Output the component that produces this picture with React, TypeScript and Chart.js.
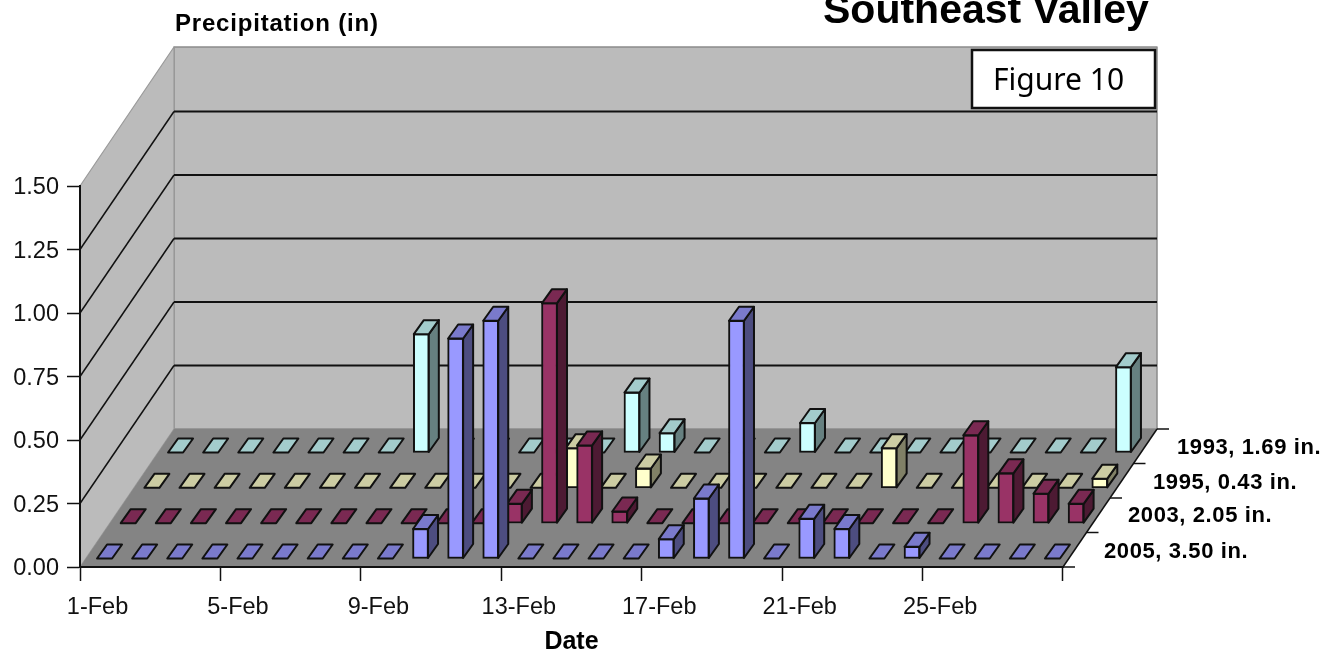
import React, { useEffect, useRef } from "react";
import { Chart, registerables } from "chart.js";

Chart.register(...registerables);

const days = [
  "1-Feb","2-Feb","3-Feb","4-Feb","5-Feb","6-Feb","7-Feb","8-Feb","9-Feb","10-Feb","11-Feb","12-Feb","13-Feb","14-Feb",
  "15-Feb","16-Feb","17-Feb","18-Feb","19-Feb","20-Feb","21-Feb","22-Feb","23-Feb","24-Feb","25-Feb","26-Feb","27-Feb","28-Feb",
];
const values2005 = [0,0,0,0,0,0,0,0,0,0.12,0.87,0.94,0,0,0,0,0.08,0.24,0.94,0,0.16,0.12,0,0.05,0,0,0,0];
const values2003 = [0,0,0,0,0,0,0,0,0,0,0,0.08,0.87,0.31,0.05,0,0,0,0,0,0,0,0,0,0.35,0.2,0.12,0.08];
const values1995 = [0,0,0,0,0,0,0,0,0,0,0,0,0.16,0,0.08,0,0,0,0,0,0,0.16,0,0,0,0,0,0.04];
const values1993 = [0,0,0,0,0,0,0,0.47,0,0,0,0,0,0.24,0.08,0,0,0,0.12,0,0,0,0,0,0,0,0,0.34];
const seriesLabels = ["2005, 3.50 in.", "2003, 2.05 in.", "1995, 0.43 in.", "1993, 1.69 in."];
const frontColors = ["#9999FF", "#993366", "#FFFFCC", "#CCFFFF"];
const sideColors = ["#4D4D80", "#4D1A33", "#808066", "#668080"];
const topColors = ["#7A7ACC", "#7A2952", "#CCCCA3", "#A3CCCC"];
const chartTitle = "Southeast Valley";
const yTitle = "Precipitation (in)";
const xTitle = "Date";
const figureNote = "Figure 10";

const FONT = '"Liberation Sans", Arial, sans-serif';
const WALL_DX = 94;
const WALL_DY = 138;
const BAR_DX = 10;
const BAR_DY = 14;
const rowOffset = (row: number) => ({ dx: 7 + row * 23.67, dy: -(8 + row * 35.33) });

const poly = (ctx: CanvasRenderingContext2D, pts: number[][], fill: string | null, stroke: string | null, lw = 2) => {
  ctx.beginPath();
  pts.forEach((p, i) => (i ? ctx.lineTo(p[0], p[1]) : ctx.moveTo(p[0], p[1])));
  ctx.closePath();
  if (fill) { ctx.fillStyle = fill; ctx.fill(); }
  if (stroke) { ctx.strokeStyle = stroke; ctx.lineWidth = lw; ctx.lineJoin = "round"; ctx.stroke(); }
};
const line = (ctx: CanvasRenderingContext2D, x1: number, y1: number, x2: number, y2: number, c: string, lw = 1.5) => {
  ctx.beginPath(); ctx.moveTo(x1, y1); ctx.lineTo(x2, y2);
  ctx.strokeStyle = c; ctx.lineWidth = lw; ctx.stroke();
};

const wallsPlugin = {
  id: "walls",
  beforeDraw(chart: any) {
    const { ctx, chartArea: a, scales } = chart;
    const y = scales.y;
    const L = a.left, R = a.right, B = a.bottom, T = a.top;
    ctx.save();
    poly(ctx, [[L + WALL_DX, T - WALL_DY - 1], [R + WALL_DX, T - WALL_DY - 1], [R + WALL_DX, B - WALL_DY], [L + WALL_DX, B - WALL_DY]], "#BBBBBB", "#8C8C8C", 1.5);
    poly(ctx, [[L, B], [L + WALL_DX, B - WALL_DY], [L + WALL_DX, T - WALL_DY - 1], [L, T]], "#BBBBBB", "#9A9A9A", 1.2);
    poly(ctx, [[L, B], [R, B], [R + WALL_DX, B - WALL_DY], [L + WALL_DX, B - WALL_DY]], "#848484", null);
    y.ticks.forEach((t: any) => {
      if (t.value <= 0 || t.value >= y.max) return;
      const py = y.getPixelForValue(t.value);
      line(ctx, L, py, L + WALL_DX, py - WALL_DY, "#111111", 1.5);
      line(ctx, L + WALL_DX, py - WALL_DY, R + WALL_DX, py - WALL_DY, "#111111", 1.8);
    });
    // front-right floor edge, depth axis and its ticks
    line(ctx, R, B, R + WALL_DX, B - WALL_DY, "#111111", 1.5);
    for (let k = 0; k <= seriesLabels.length; k++) {
      const f = k / seriesLabels.length;
      line(ctx, R + WALL_DX * f, B - WALL_DY * f, R + WALL_DX * f + 12, B - WALL_DY * f, "#111111", 1.5);
    }
    ctx.restore();
  },
};

const bars3dPlugin = {
  id: "bars3d",
  beforeDatasetDraw(chart: any, args: any) {
    const { dx, dy } = rowOffset(args.index);
    chart.ctx.save();
    chart.ctx.translate(dx, dy);
  },
  afterDatasetDraw(chart: any, args: any) {
    const ctx = chart.ctx;
    const i = args.index;
    args.meta.data.forEach((bar: any) => {
      const p = bar.getProps(["x", "y", "base", "width"], true);
      const x0 = p.x - p.width / 2 + 0.5, x1 = p.x + p.width / 2 - 0.5;
      const yt = p.y + 0.5, yb = p.base - 0.5;
      if (yb - yt > 1) {
        poly(ctx, [[x1, yt], [x1 + BAR_DX, yt - BAR_DY], [x1 + BAR_DX, yb - BAR_DY], [x1, yb]], sideColors[i], "#111111");
      }
      const top = Math.min(yt, yb);
      poly(ctx, [[x0, top], [x1, top], [x1 + BAR_DX, top - BAR_DY], [x0 + BAR_DX, top - BAR_DY]], topColors[i], "#111111");
    });
    ctx.restore();
  },
};

const textPlugin = {
  id: "chartText",
  afterDraw(chart: any) {
    const { ctx } = chart;
    ctx.save();
    ctx.fillStyle = "#000000";
    ctx.textBaseline = "alphabetic";
    ctx.textAlign = "left";
    ctx.font = `bold 41px ${FONT}`;
    ctx.fillText(chartTitle, 823, 23);
    (ctx as any).letterSpacing = "0.8px";
    ctx.font = `bold 24px ${FONT}`;
    ctx.fillText(yTitle, 175, 31);
    (ctx as any).letterSpacing = "0.6px";
    ctx.font = `bold 22px ${FONT}`;
    const lx = [1104, 1128, 1153, 1177];
    const ly = [558, 522, 489, 454];
    seriesLabels.forEach((s, k) => ctx.fillText(s, lx[k], ly[k]));
    (ctx as any).letterSpacing = "0px";
    const by = 50;
    ctx.fillStyle = "#FFFFFF";
    ctx.fillRect(972, by, 183, 58);
    ctx.strokeStyle = "#111111";
    ctx.lineWidth = 2.5;
    ctx.strokeRect(972, by, 183, 58);
    ctx.fillStyle = "#000000";
    ctx.font = `30px "Noto Sans", sans-serif`;
    ctx.fillText(figureNote, 993, 90);
    ctx.restore();
  },
};

export default function App() {
  const ref = useRef<HTMLCanvasElement>(null);
  useEffect(() => {
    const series = [values2005, values2003, values1995, values1993];
    const chart = new Chart(ref.current as HTMLCanvasElement, {
      type: "bar",
      data: {
        labels: days,
        datasets: series.map((d, i) => ({
          label: seriesLabels[i],
          data: d,
          backgroundColor: frontColors[i],
          borderColor: "#111111",
          borderWidth: 2,
          borderSkipped: false,
          barThickness: 16,
          grouped: false,
        })) as any,
      },
      options: {
        responsive: false,
        animation: false,
        devicePixelRatio: 1,
        layout: { autoPadding: false, padding: { top: 186, right: 271, left: 0, bottom: 0 } },
        plugins: { legend: { display: false }, title: { display: false }, tooltip: { enabled: false } },
        scales: {
          x: {
            type: "category",
            offset: true,
            afterFit: (s: any) => { s.height = 89; },
            grid: {
              offset: true,
              drawOnChartArea: false,
              drawTicks: true,
              tickLength: 14,
              tickWidth: 1.5,
              tickColor: (c: any) => (c.index === undefined || c.index % 4 === 0 ? "#111111" : "transparent"),
            },
            border: { display: true, color: "#111111", width: 2 },
            ticks: {
              autoSkip: false,
              maxRotation: 0,
              minRotation: 0,
              padding: 12,
              color: "#111111",
              font: { family: FONT, size: 23.5 },
              callback: (_v: any, i: number) => (i % 4 === 0 ? days[i] : ""),
            },
            title: {
              display: true,
              text: xTitle,
              color: "#000000",
              font: { family: FONT, size: 25, weight: "bold" },
              padding: { top: 0, bottom: -1 },
            },
          },
          y: {
            type: "linear",
            min: 0,
            max: 1.5,
            afterFit: (s: any) => { s.width = 80; },
            grid: { drawOnChartArea: false, drawTicks: true, tickLength: 13, tickWidth: 1.5, tickColor: "#111111" },
            border: { display: true, color: "#111111", width: 2 },
            ticks: {
              stepSize: 0.25,
              padding: 8,
              labelOffset: 2,
              color: "#111111",
              font: { family: FONT, size: 23.5 },
              callback: (v: any) => Number(v).toFixed(2),
            },
          },
        },
      } as any,
      plugins: [wallsPlugin, bars3dPlugin, textPlugin] as any,
    });
    return () => chart.destroy();
  }, []);
  return (
    <div style={{ position: "fixed", left: 0, top: 0, width: 1334, height: 656, background: "#fff" }}>
      <canvas ref={ref} width={1334} height={656} style={{ display: "block" }} />
    </div>
  );
}
